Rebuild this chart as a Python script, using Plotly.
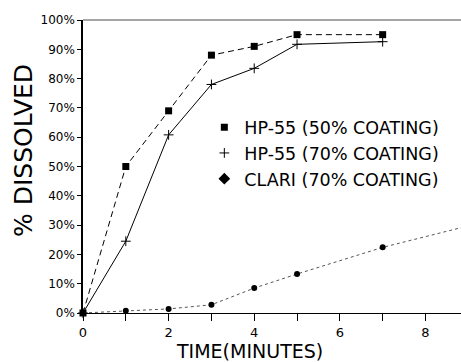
import plotly.graph_objects as go

time_min = [0, 1, 2, 3, 4, 5, 7]
hp55_50 = [0, 50, 69, 88, 91, 95, 95]
hp55_70 = [0, 24.5, 60.8, 78, 83.5, 91.7, 92.6]
clari_time = [0, 1, 2, 3, 4, 5, 7, 10]
clari_70 = [0, 0.8, 1.4, 2.8, 8.5, 13.3, 22.4, 33.4]

names = ["HP-55 (50% COATING)", "HP-55 (70% COATING)", "CLARI (70% COATING)"]
y_ticks = list(range(0, 101, 10))
x_ticks = list(range(0, 9))
x_labels = [str(v) if v % 2 == 0 else "" for v in x_ticks]

FONT = "DejaVu Sans"

sq = dict(symbol="square", size=7, color="black")
cr = dict(symbol="cross-thin", size=7, color="black", line=dict(color="black", width=1))
dm = dict(symbol="circle", size=6, color="black")

fig = go.Figure()
fig.add_trace(go.Scatter(
    x=time_min, y=hp55_50, name=names[0], mode="lines+markers",
    line=dict(color="black", width=1, dash="6px,4px"), marker=sq,
    cliponaxis=False, showlegend=False))
fig.add_trace(go.Scatter(
    x=time_min, y=hp55_70, name=names[1], mode="lines+markers",
    line=dict(color="black", width=1), marker=cr,
    cliponaxis=False, showlegend=False))
fig.add_trace(go.Scatter(
    x=clari_time, y=clari_70, name=names[2], mode="lines+markers",
    line=dict(color="#555", width=1, dash="dot"), marker=dm,
    cliponaxis=False, showlegend=False))

# legend entries (markers only, as in the original)
leg_markers = [sq, cr, dict(symbol="diamond", size=9, color="black")]
for nm, mk, g in zip(names, leg_markers, ["a", "b", "c"]):
    fig.add_trace(go.Scatter(x=[None], y=[None], name=nm, mode="markers",
                             marker=mk, legendgroup=g))

fig.update_layout(
    width=461, height=362,
    margin=dict(l=83, r=0, t=20, b=49),
    paper_bgcolor="white", plot_bgcolor="white",
    font=dict(family=FONT, color="black", size=12),
    showlegend=True,
    legend=dict(x=0.321, y=0.545, xanchor="left", yanchor="middle",
                font=dict(size=17.5, family=FONT), bgcolor="rgba(0,0,0,0)",
                tracegroupgap=0, traceorder="grouped",
                itemwidth=30),
    xaxis=dict(range=[0, 8.83], tickvals=x_ticks, ticktext=x_labels,
               ticks="outside", ticklen=7, tickwidth=1, tickcolor="black",
               showline=True, linecolor="black", linewidth=1,
               showgrid=False, zeroline=False,
               tickfont=dict(size=13, family=FONT)),
    yaxis=dict(range=[0, 100], tickvals=y_ticks,
               ticktext=[f"{v}%" for v in y_ticks],
               ticks="outside", ticklen=4, tickwidth=1, tickcolor="black",
               showline=True, linecolor="black", linewidth=1.5,
               showgrid=False, zeroline=False,
               tickfont=dict(size=12, family=FONT)),
    shapes=[dict(type="line", xref="paper", yref="paper", x0=0, x1=1, y0=1, y1=1,
                 line=dict(color="#888", width=1.5))],
    annotations=[
        dict(text="TIME(MINUTES)", xref="paper", yref="paper",
             x=(249 - 83) / 378, y=-0.085, xanchor="center", yanchor="top",
             showarrow=False, font=dict(size=19, family=FONT)),
        dict(text="% DISSOLVED", xref="paper", yref="paper",
             x=-(83 - 23) / 378, y=(313 - 151) / 293, xanchor="center", yanchor="middle",
             textangle=-90, showarrow=False, font=dict(size=25, family=FONT)),
    ],
)

fig.write_html("out.html")
